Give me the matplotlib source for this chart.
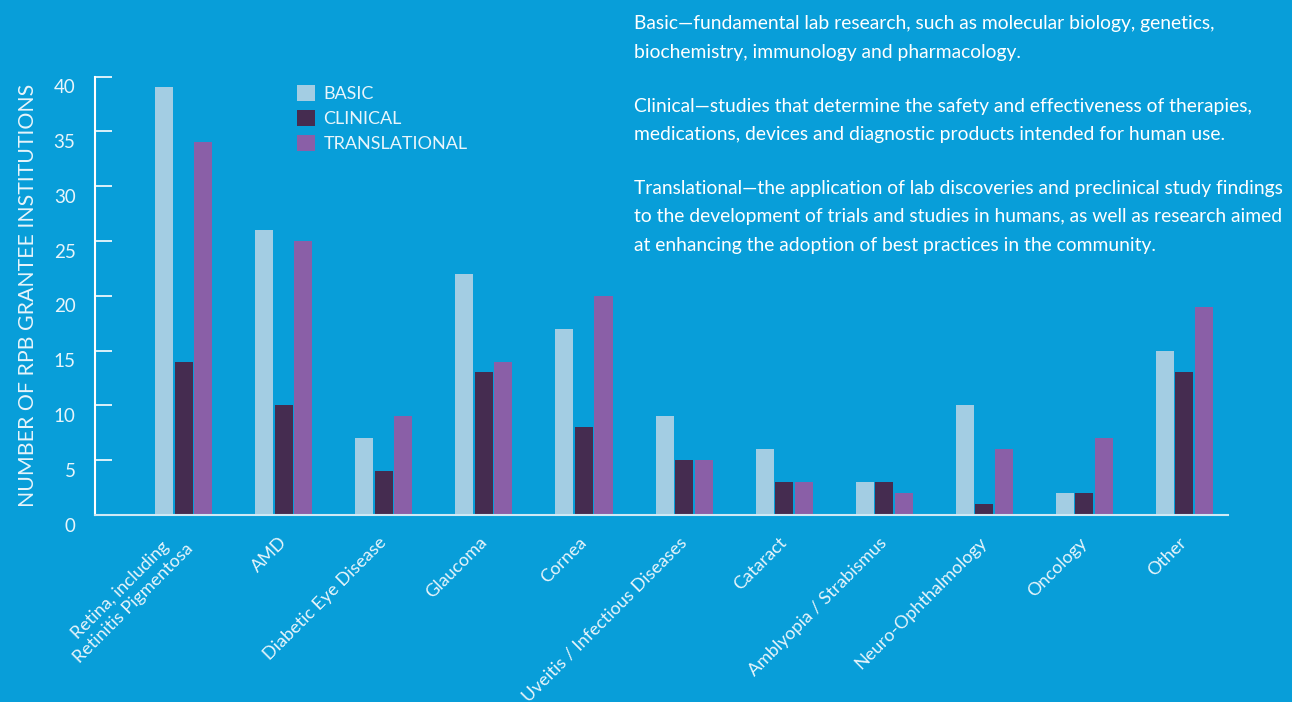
import numpy as np
import matplotlib.pyplot as plt
from matplotlib.transforms import ScaledTranslation

categories = ["Retina, including\nRetinitis Pigmentosa", "AMD", "Diabetic Eye Disease",
              "Glaucoma", "Cornea", "Uveitis / Infectious Diseases", "Cataract",
              "Amblyopia / Strabismus", "Neuro-Ophthalmology", "Oncology", "Other"]
basic = [39, 26, 7, 22, 17, 9, 6, 3, 10, 2, 15]
clinical = [14, 10, 4, 13, 8, 5, 3, 3, 1, 2, 13]
translational = [34, 25, 9, 14, 20, 5, 3, 2, 6, 7, 19]
series_names = ["BASIC", "CLINICAL", "TRANSLATIONAL"]
yticks = [0, 5, 10, 15, 20, 25, 30, 35, 40]

notes = [
    "Basic\u2014fundamental lab research, such as molecular biology, genetics,\n"
    "biochemistry, immunology and pharmacology.",
    "Clinical\u2014studies that determine the safety and effectiveness of therapies,\n"
    "medications, devices and diagnostic products intended for human use.",
    "Translational\u2014the application of lab discoveries and preclinical study findings\n"
    "to the development of trials and studies in humans, as well as research aimed\n"
    "at enhancing the adoption of best practices in the community.",
]

bg = "#089ed9"
colors = ["#a3cde3", "#452c50", "#8a5fa7"]
txt = "#e8f5fb"

plt.rcParams['font.family'] = ['Lato', 'DejaVu Sans']

fig = plt.figure(figsize=(12.92, 7.02), dpi=100, facecolor=bg)
ax = fig.add_axes([0.0735, 0.2664, 0.877, 0.6246], facecolor=bg)

x = np.arange(len(categories))
w = 0.18
for off, vals, c, name in zip([-0.195, 0, 0.195], [basic, clinical, translational], colors, series_names):
    ax.bar(x + off, vals, width=w, color=c, label=name, zorder=2)

ax.set_xlim(-0.89, 10.44)
ax.set_ylim(0, 40)
ax.set_yticks(yticks)
ax.tick_params(axis='y', direction='in', length=12.5, width=1.2, colors='white',
               labelcolor=txt, labelsize=13.5, pad=14)
for lab in ax.get_yticklabels():
    lab.set_transform(lab.get_transform() + ScaledTranslation(0, -7 / 72, fig.dpi_scale_trans))

ax.set_xticks(x)
ax.set_xticklabels(categories, rotation=45, ha='right', va='center', rotation_mode='anchor',
                   color=txt, fontsize=13, multialignment='center')
ax.tick_params(axis='x', length=0, pad=18)

for s in ['top', 'right']:
    ax.spines[s].set_visible(False)
ax.spines['left'].set_color('white')
ax.spines['left'].set_linewidth(1.5)
ax.spines['bottom'].set_color('#cfe9f5')
ax.spines['bottom'].set_linewidth(1.5)

ax.set_ylabel("NUMBER OF RPB GRANTEE INSTITUTIONS", color=txt, fontsize=15.3, va='center')
ax.yaxis.set_label_coords(-0.059, 0.5)

leg = ax.legend(loc='upper left', bbox_to_anchor=(0.172, 0.997), frameon=False,
                fontsize=13, handlelength=1.0, handleheight=1.0, labelspacing=0.42,
                handletextpad=0.45, borderaxespad=0)
for t in leg.get_texts():
    t.set_color(txt)

ys = [0.978, 0.861, 0.744]
for y, note in zip(ys, notes):
    fig.text(0.491, y, note, color='white', fontsize=13.9, va='top', ha='left', linespacing=1.83)

fig.savefig("out.png", dpi=100, facecolor=bg)
